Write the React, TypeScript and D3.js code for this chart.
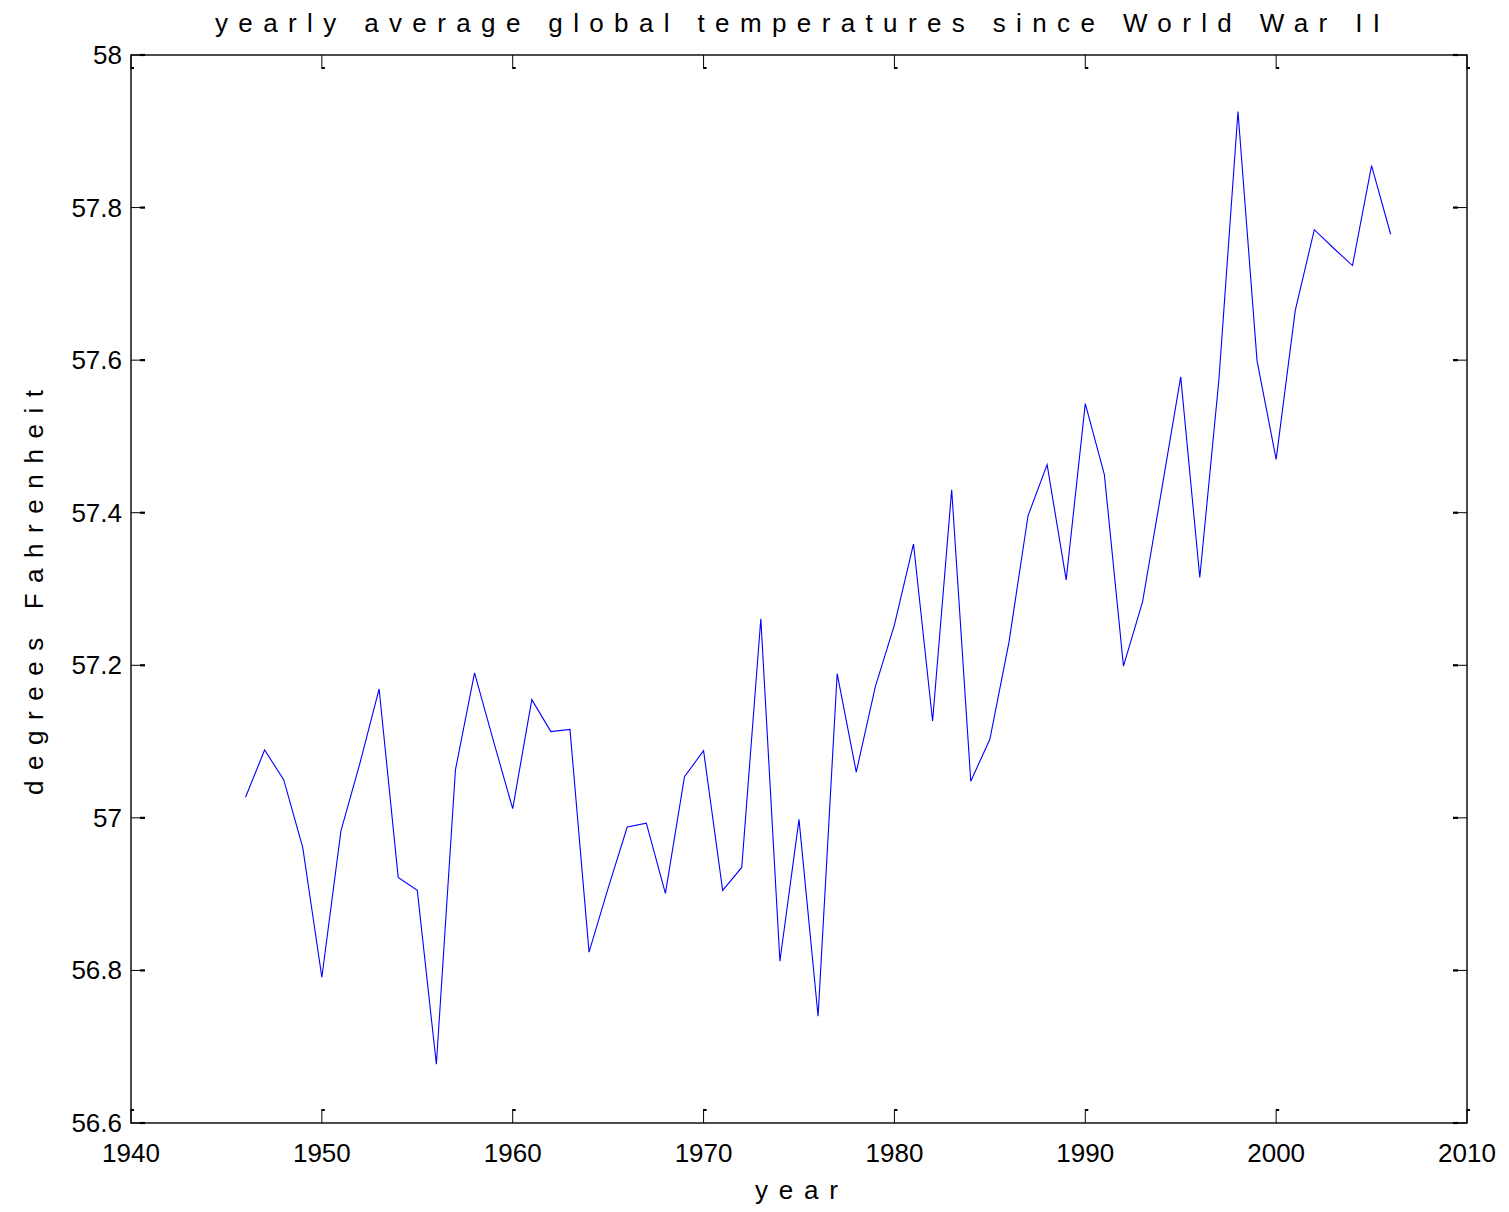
import React from "react";
import * as d3 from "d3";

// Yearly average global temperature, degrees Fahrenheit
const years: number[] = [
  1946, 1947, 1948, 1949, 1950, 1951, 1952, 1953, 1954, 1955, 1956, 1957, 1958, 1959, 1960,
  1961, 1962, 1963, 1964, 1965, 1966, 1967, 1968, 1969, 1970, 1971, 1972, 1973, 1974, 1975,
  1976, 1977, 1978, 1979, 1980, 1981, 1982, 1983, 1984, 1985, 1986, 1987, 1988, 1989, 1990,
  1991, 1992, 1993, 1994, 1995, 1996, 1997, 1998, 1999, 2000, 2001, 2002, 2003, 2004, 2005, 2006,
];
const temps: number[] = [
  57.027, 57.089, 57.05, 56.961, 56.791, 56.983, 57.072, 57.169, 56.922, 56.905, 56.677, 57.063, 57.19, 57.1, 57.012,
  57.155, 57.113, 57.116, 56.824, 56.908, 56.988, 56.993, 56.901, 57.054, 57.088, 56.905, 56.935, 57.261, 56.812, 56.998,
  56.74, 57.189, 57.06, 57.172, 57.253, 57.359, 57.127, 57.43, 57.048, 57.103, 57.23, 57.396, 57.463, 57.312, 57.543,
  57.45, 57.199, 57.283, 57.43, 57.578, 57.315, 57.574, 57.926, 57.599, 57.47, 57.665, 57.771, 57.747, 57.724, 57.855, 57.765,
];
const xTicks: number[] = [1940, 1950, 1960, 1970, 1980, 1990, 2000, 2010];
const yTicks: number[] = [56.6, 56.8, 57, 57.2, 57.4, 57.6, 57.8, 58];

const titleText = "yearly average global temperatures since World War II";
const xLabel = "year";
const yLabel = "degrees Fahrenheit";

const W = 1509;
const H = 1212;
const left = 131;
const right = 1467;
const top = 55;
const bottom = 1123;
const font = "Arial, 'Liberation Sans', Helvetica, sans-serif";

export default function App() {
  const x = d3.scaleLinear().domain([1940, 2010]).range([left, right]);
  const y = d3.scaleLinear().domain([56.6, 58]).range([bottom, top]);
  const line = d3
    .line<number>()
    .x((_, i) => x(years[i]))
    .y((d) => y(d));
  const tickLen = 14;

  return (
    <svg
      width={W}
      height={H}
      style={{ position: "absolute", left: 0, top: 0, background: "#fff" }}
      fontFamily={font}
    >
      <rect x={0} y={0} width={W} height={H} fill="#fff" />
      {/* data line */}
      <path d={line(temps) ?? ""} fill="none" stroke="#0000ff" strokeWidth={1.1} />

      {/* axes box */}
      <rect x={left} y={top} width={right - left} height={bottom - top} fill="none" stroke="#000" strokeWidth={1.4} />

      {/* x ticks, bottom and top, pointing inward */}
      {xTicks.map((t) => (
        <g key={"xt" + t}>
          <line x1={x(t)} x2={x(t)} y1={bottom} y2={bottom - tickLen} stroke="#000" strokeWidth={1} />
          <line x1={x(t)} x2={x(t) + 3} y1={bottom - tickLen + 1} y2={bottom - tickLen + 1} stroke="#000" strokeWidth={2} />
          <line x1={x(t)} x2={x(t)} y1={top} y2={top + tickLen} stroke="#000" strokeWidth={1} />
          <line x1={x(t)} x2={x(t) + 3} y1={top + tickLen - 1} y2={top + tickLen - 1} stroke="#000" strokeWidth={2} />
          <text x={x(t)} y={bottom + 39} textAnchor="middle" fontSize={26} fill="#000">
            {t}
          </text>
        </g>
      ))}

      {/* y ticks, left and right, pointing inward */}
      {yTicks.map((t) => (
        <g key={"yt" + t}>
          <line x1={left} x2={left + tickLen} y1={y(t)} y2={y(t)} stroke="#000" strokeWidth={1} />
          <line x1={left + tickLen - 5} x2={left + tickLen} y1={y(t)} y2={y(t)} stroke="#000" strokeWidth={2.2} />
          <line x1={right} x2={right - tickLen} y1={y(t)} y2={y(t)} stroke="#000" strokeWidth={1} />
          <line x1={right - tickLen} x2={right - tickLen + 5} y1={y(t)} y2={y(t)} stroke="#000" strokeWidth={2.2} />
          <text x={left - 9} y={y(t) + 9} textAnchor="end" fontSize={26} fill="#000">
            {d3.format("")(t)}
          </text>
        </g>
      ))}

      {/* title and axis labels, widely spaced */}
      <text x={215} y={32} fontSize={26} fill="#000" textLength={1165} lengthAdjust="spacing">
        {titleText}
      </text>
      <text x={755} y={1199} fontSize={26} fill="#000" textLength={83} lengthAdjust="spacing">
        {xLabel}
      </text>
      <text
        transform={`translate(43, 795) rotate(-90)`}
        fontSize={26}
        fill="#000"
        textLength={405}
        lengthAdjust="spacing"
      >
        {yLabel}
      </text>
    </svg>
  );
}
